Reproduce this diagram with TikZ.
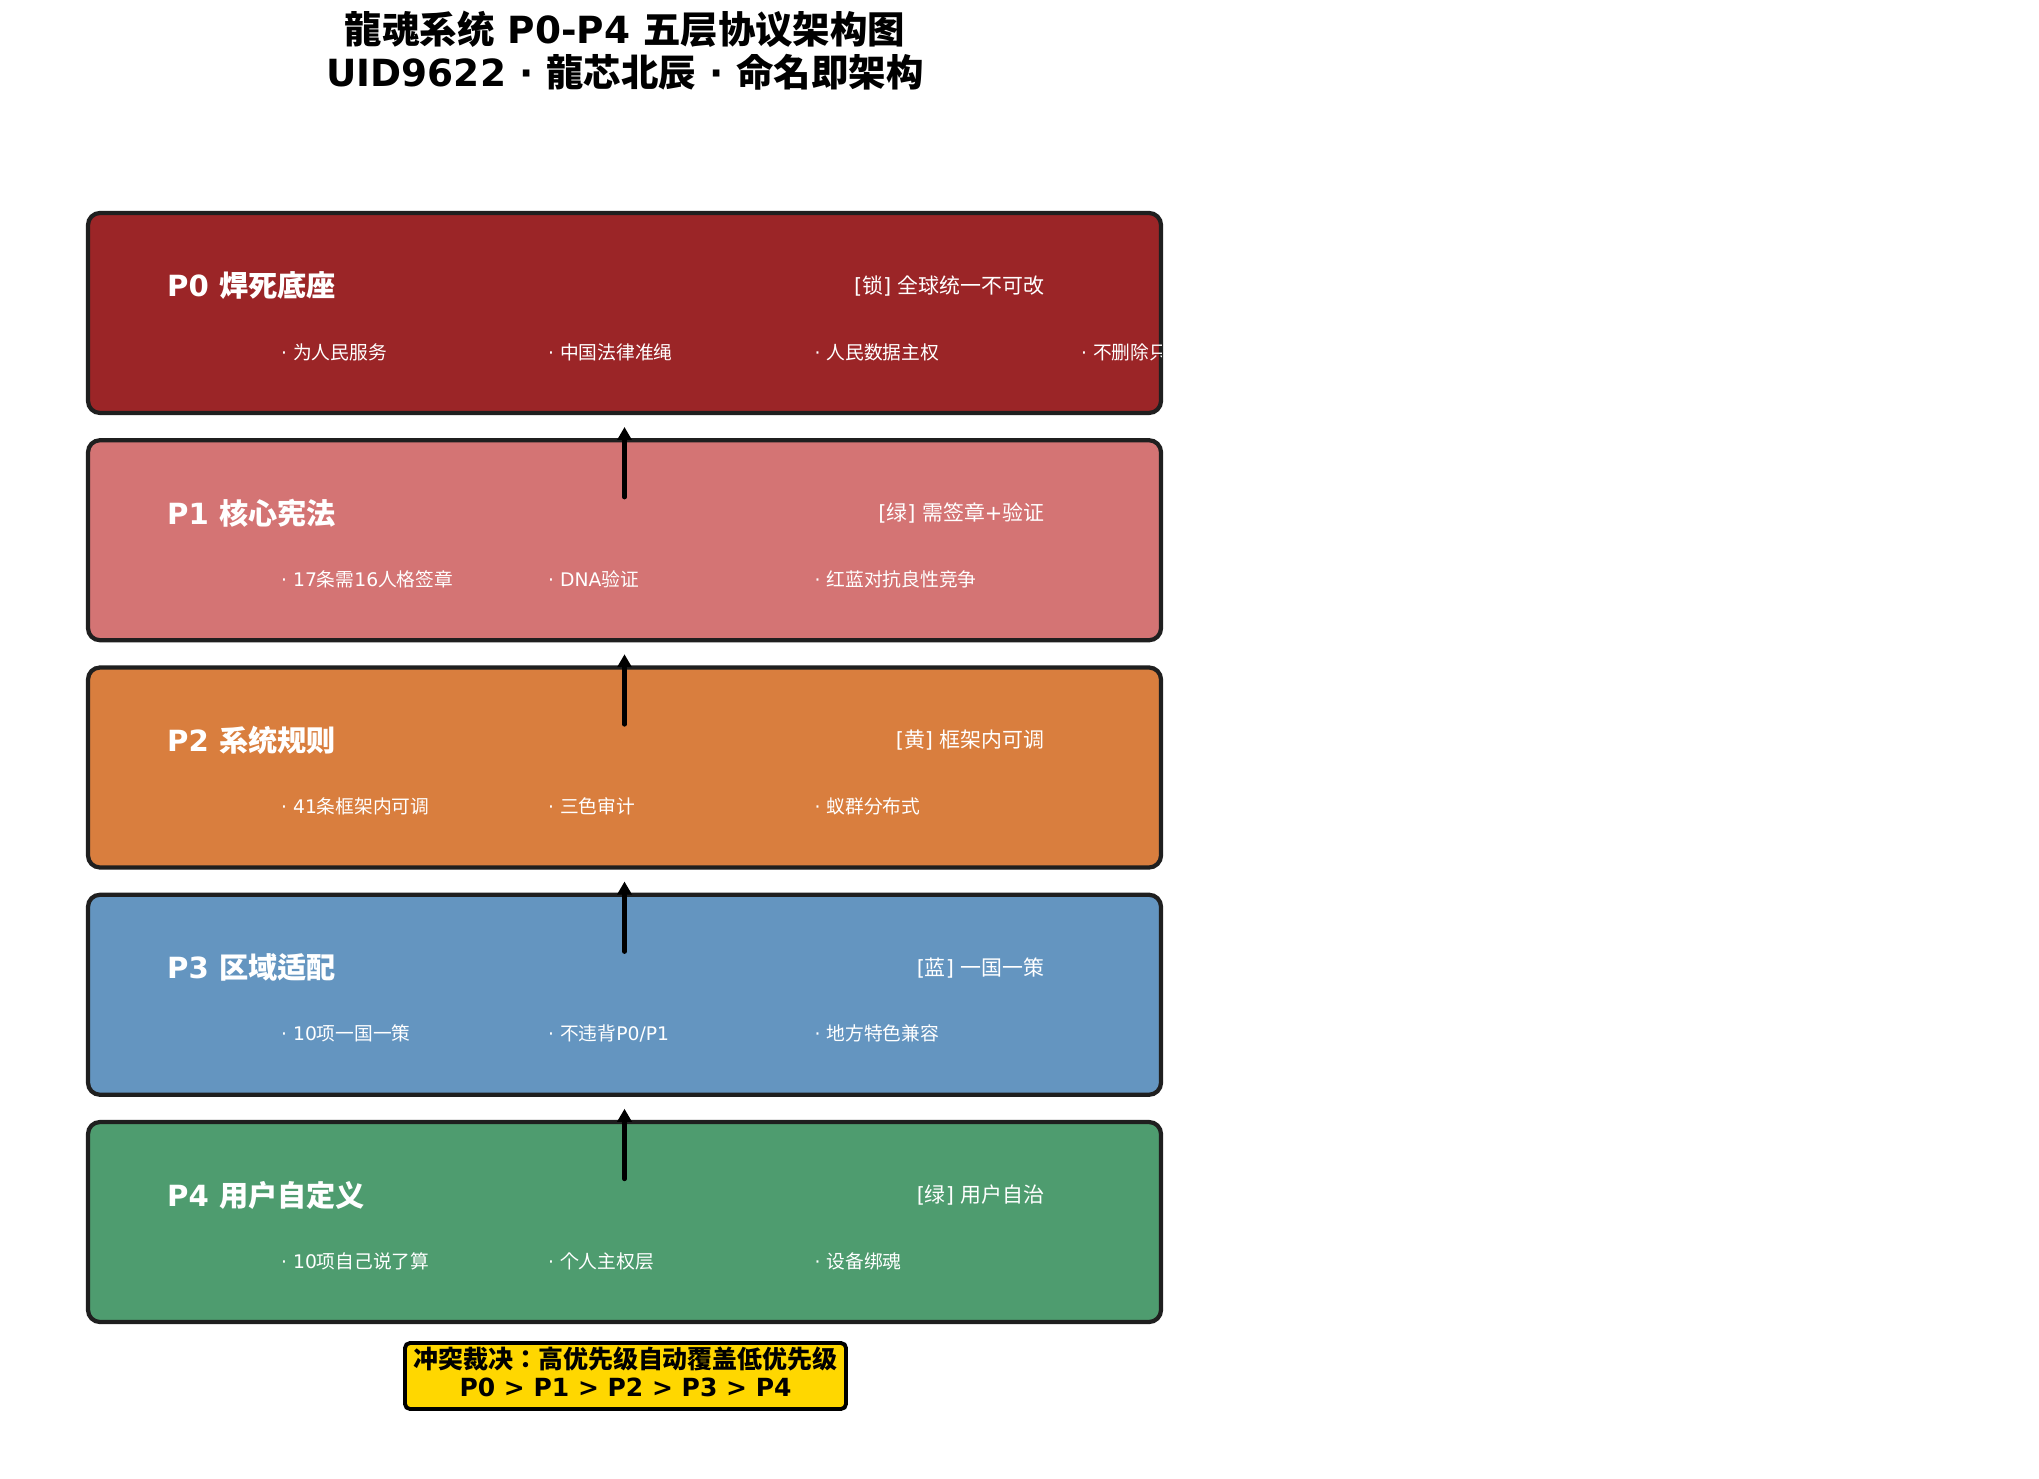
\documentclass[tikz,border=0pt]{standalone}
\usepackage{fontspec}
\usepackage{tikz}
\usetikzlibrary{arrows.meta,positioning}
\setmainfont{DejaVu Sans}
\newfontfamily\zhfont{Noto Sans CJK JP}
\newcommand\zh[1]{{\zhfont #1}}

\definecolor{pzero}{HTML}{9B2527}
\definecolor{pone}{HTML}{D47474}
\definecolor{ptwo}{HTML}{D97E3E}
\definecolor{pthree}{HTML}{6495C0}
\definecolor{pfour}{HTML}{4E9C6F}
\definecolor{rulegold}{HTML}{FFD700}

\tikzset{
  layer/.style={draw=black!88, line width=1.2pt, rounded corners=0.12cm,
    minimum width=10.73cm, minimum height=2.0cm, inner sep=0, outer sep=0, anchor=north west},
  ltitle/.style={anchor=west, text=white, inner sep=0,
    font=\fontsize{8.3pt}{10pt}\selectfont\bfseries},
  ltag/.style={anchor=east, text=white, inner sep=0,
    font=\fontsize{5.95pt}{7.5pt}\selectfont},
  litem/.style={anchor=west, text=white, inner sep=0,
    font=\fontsize{5.33pt}{6.5pt}\selectfont},
  uparrow/.style={-{Triangle[length=0.13cm,width=0.14cm]}, line width=1.2pt, line cap=round},
  verdict/.style={draw=black, line width=1.1pt, fill=rulegold, rounded corners=0.05cm,
    minimum width=4.41cm, minimum height=0.66cm, inner sep=0},
  verdicttext/.style={inner sep=0, align=center,
    font=\fontsize{7.11pt}{7.97pt}\selectfont\bfseries}
}

\begin{document}
\begin{tikzpicture}
        \useasboundingbox (0,0) rectangle (20.39,-14.79);

        % Titulo
        \node[align=center, font=\fontsize{10.65pt}{12.2pt}\selectfont\bfseries] (title) at (6.25,-0.51)
          {\zh{龍魂系统} P0-P4 \zh{五层协议架构图}\\UID9622 · \zh{龍芯北辰} · \zh{命名即架构}};

        % Camadas
        \node[layer, fill=pzero] (p0) at (0.88,-2.13) {};
        \node[layer, fill=pone] (p1) at (0.88,-4.4025) {};
        \node[layer, fill=ptwo] (p2) at (0.88,-6.675) {};
        \node[layer, fill=pthree] (p3) at (0.88,-8.9475) {};
        \node[layer, fill=pfour] (p4) at (0.88,-11.22) {};

        % P0
        \node[ltitle] (p0t) at (1.665,-2.86) {P0 \zh{焊死底座}};
        \node[ltag] (p0g) at (10.45,-2.86) {[\zh{锁}] \zh{全球统一不可改}};
        \node[litem] (p0a) at (2.805,-3.52) {· \zh{为人民服务}};
        \node[litem] (p0b) at (5.475,-3.52) {· \zh{中国法律准绳}};
        \node[litem] (p0c) at (8.14,-3.52) {· \zh{人民数据主权}};
        \begin{scope}
          \clip[rounded corners=0.12cm] (p0.south west) rectangle (p0.north east);
          \node[litem] (p0d) at (10.805,-3.52) {· \zh{不删除只}};
        \end{scope}

        % P1
        \node[ltitle] (p1t) at (1.665,-5.1325) {P1 \zh{核心宪法}};
        \node[ltag] (p1g) at (10.45,-5.1325) {[\zh{绿}] \zh{需签章}+\zh{验证}};
        \node[litem] (p1a) at (2.805,-5.7925) {· 17\zh{条需}16\zh{人格签章}};
        \node[litem] (p1b) at (5.475,-5.7925) {· DNA\zh{验证}};
        \node[litem] (p1c) at (8.14,-5.7925) {· \zh{红蓝对抗良性竞争}};

        % P2
        \node[ltitle] (p2t) at (1.665,-7.405) {P2 \zh{系统规则}};
        \node[ltag] (p2g) at (10.45,-7.405) {[\zh{黄}] \zh{框架内可调}};
        \node[litem] (p2a) at (2.805,-8.065) {· 41\zh{条框架内可调}};
        \node[litem] (p2b) at (5.475,-8.065) {· \zh{三色审计}};
        \node[litem] (p2c) at (8.14,-8.065) {· \zh{蚁群分布式}};

        % P3
        \node[ltitle] (p3t) at (1.665,-9.6775) {P3 \zh{区域适配}};
        \node[ltag] (p3g) at (10.45,-9.6775) {[\zh{蓝}] \zh{一国一策}};
        \node[litem] (p3a) at (2.805,-10.3375) {· 10\zh{项一国一策}};
        \node[litem] (p3b) at (5.475,-10.3375) {· \zh{不违背}P0/P1};
        \node[litem] (p3c) at (8.14,-10.3375) {· \zh{地方特色兼容}};

        % P4
        \node[ltitle] (p4t) at (1.665,-11.95) {P4 \zh{用户自定义}};
        \node[ltag] (p4g) at (10.45,-11.95) {[\zh{绿}] \zh{用户自治}};
        \node[litem] (p4a) at (2.805,-12.61) {· 10\zh{项自己说了算}};
        \node[litem] (p4b) at (5.475,-12.61) {· \zh{个人主权层}};
        \node[litem] (p4c) at (8.14,-12.61) {· \zh{设备绑魂}};

        % Setas de prioridade
        \draw[uparrow] ([yshift=-0.57cm]p1.north) -- ([yshift=-0.14cm]p0.south);
        \draw[uparrow] ([yshift=-0.57cm]p2.north) -- ([yshift=-0.14cm]p1.south);
        \draw[uparrow] ([yshift=-0.57cm]p3.north) -- ([yshift=-0.14cm]p2.south);
        \draw[uparrow] ([yshift=-0.57cm]p4.north) -- ([yshift=-0.14cm]p3.south);

        % Regra de conflito
        \node[verdict] (rule) at (6.255,-13.76) {};
        \node[verdicttext] (ruletext) at ([yshift=0.04cm]rule.center)
          {\zh{冲突裁决：高优先级自动覆盖低优先级}\\P0 > P1 > P2 > P3 > P4};
    \end{tikzpicture}
\end{document}
